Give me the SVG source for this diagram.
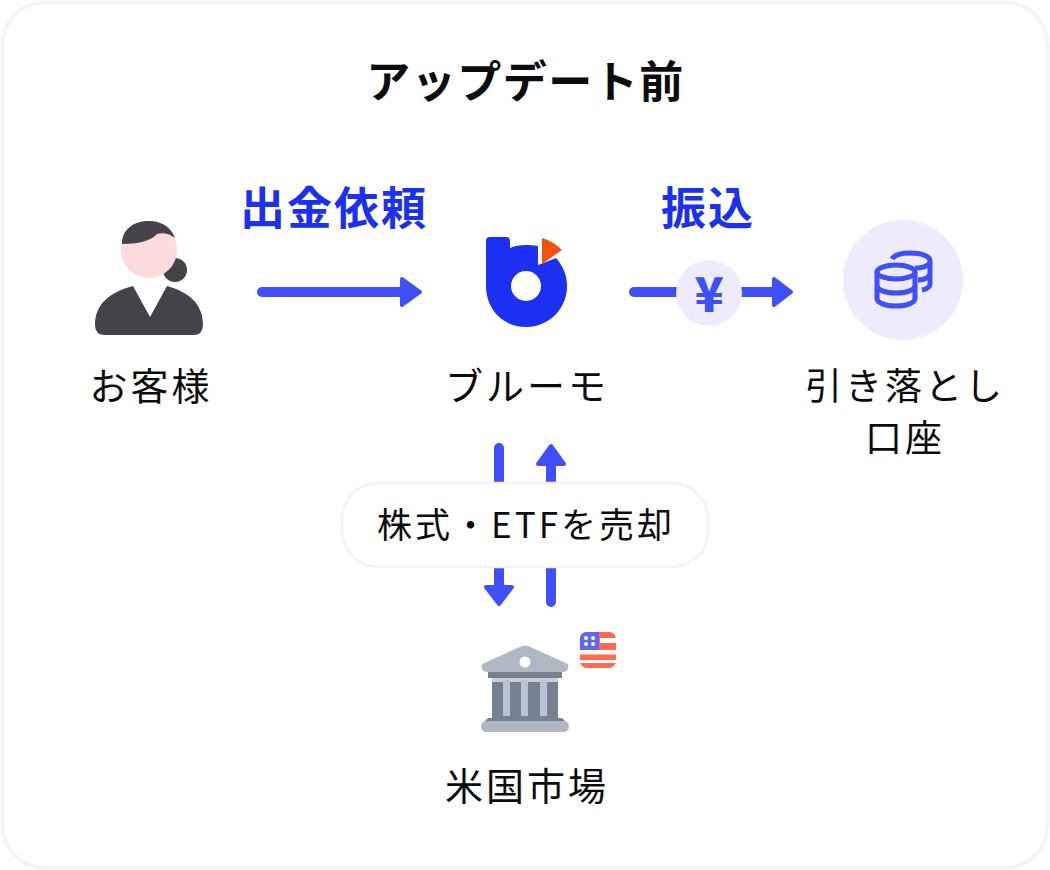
<svg xmlns="http://www.w3.org/2000/svg" width="1050" height="870" viewBox="0 0 1050 870">
<style>
text{font-family:"Noto Sans CJK JP","Noto Sans",sans-serif;fill:#0c0c0f;text-anchor:middle}
.lbl{font-size:38px;font-weight:400;letter-spacing:3px}
.lbl2{font-size:37px;font-weight:400;letter-spacing:3px}
.blue{font-size:45px;font-weight:700;fill:#1b30f2;letter-spacing:2px}
.ln{stroke:#3f4ffa;stroke-width:10;stroke-linecap:round;fill:none}
.hd{fill:#3f4ffa;stroke:#3f4ffa;stroke-width:4;stroke-linejoin:round}
</style>
<rect width="1050" height="870" fill="#fff"/>
<rect x="2.500" y="2.500" width="1045" height="865" rx="42" fill="#fff" stroke="#f5f4f7" stroke-width="4"/>
<text x="525.500" y="98" font-size="44" font-weight="700" style="letter-spacing:1.500px">アップデート前</text>
<g id="connectors">
<path class="ln" d="M262 292H402"/><path class="hd" d="M402 279L420 292L402 305Z"/>
<path class="ln" d="M634 292H690"/><path class="ln" d="M742 292H775" stroke-linecap="butt"/><path class="hd" d="M774 279L791 292L774 305Z"/>
<path class="ln" d="M499 448V585"/><path class="hd" d="M486 587H512L499 604Z"/>
<path class="ln" d="M551 602V465"/><path class="hd" d="M538 464H564L551 446Z"/>
</g>
<g id="label-request"><text class="blue" x="334" y="225">出金依頼</text></g>
<g id="label-transfer"><text class="blue" x="708" y="225">振込</text></g>
<g id="customer">
<path d="M95 325C95 304 110 292 133 286L150 317L167 286C189 292 203 304 203 325Q203 335 193 335H105Q95 335 95 325Z" fill="#45424a"/>
<circle cx="175" cy="270" r="12" fill="#45424a"/>
<circle cx="149" cy="250" r="28" fill="#fddadb"/>
<path d="M122 244C122 229 134 221 149 221C162 221 172 228 175 238C167 232 161 233 157 234C151 241 137 244 122 244Z" fill="#45424a"/>
<text class="lbl" x="151" y="400">お客様</text>
</g>
<g id="bluemo">
<path d="M486 241Q486 237 490 237H506Q510 237 510 241V248C514 246 520 245 526 245C530 245 534 245 538 246V265L556 258C563 266 567 275 567 286C567 309 549 327 526 327C503 327 486 309 486 286Z" fill="#1b30f2"/>
<circle cx="526" cy="286" r="15" fill="#fff"/>
<path d="M542 238Q553 241 562 250L542 264Z" fill="#f4500f"/>
<text class="lbl" x="527" y="400">ブルーモ</text>
</g>
<g id="yen">
<circle cx="709" cy="293" r="33" fill="#eeebfd"/>
<text x="709" y="312" font-size="48" font-weight="900" style="fill:#3f4ffa">¥</text>
</g>
<g id="account">
<circle cx="903" cy="280" r="60" fill="#eeebfd"/>
<g fill="none" stroke="#3f4ffa" stroke-width="5">
<ellipse cx="896" cy="272" rx="19" ry="7"/>
<path d="M877 272V298C877 303 885 306 896 306C907 306 915 303 915 298V272M877 285C877 290 885 293 896 293C907 293 915 290 915 285"/>
<path d="M892 259C895 254 902 253 910 253C921 253 930 256 930 261V284C930 287 927 289 922 290M915 268C925 268 930 265 930 261M918 280C925 280 930 277 930 273"/>
</g>
<text class="lbl2" x="905" y="400">引き落とし</text>
<text class="lbl2" x="905" y="452">口座</text>
</g>
<g id="sell-label">
<rect x="342" y="483" width="366" height="84" rx="36" fill="#fff" stroke="#f4f3f8" stroke-width="2.500"/>
<text x="526" y="538" font-size="35" style="letter-spacing:3px">株式・ETFを売却</text>
</g>
<g id="market">
<path d="M482 664L522 646Q525 645 528 646L568 664Q570 672 562 672H488Q480 672 482 664Z" fill="#b1b8c4"/>
<circle cx="525" cy="662" r="5.500" fill="#fff"/>
<rect x="488" y="672" width="74" height="6" fill="#778291"/>
<rect x="492" y="678" width="66" height="40" fill="#778291"/>
<rect x="492" y="678" width="66" height="4" fill="#c8cfdc"/>
<rect x="503" y="680" width="7" height="36" fill="#b9c2d6"/>
<rect x="521" y="680" width="7" height="36" fill="#b9c2d6"/>
<rect x="540" y="680" width="7" height="36" fill="#b9c2d6"/>
<path d="M488 718H562L566 722H484Z" fill="#778291"/>
<rect x="481" y="721" width="88" height="11" rx="5.500" fill="#b1b8c4"/>
<g id="flag">
<rect x="580" y="632" width="36" height="36" rx="7" fill="#ff6b50"/>
<rect x="600" y="638" width="16" height="5" fill="#fff"/><rect x="580" y="650" width="36" height="4.500" fill="#fff"/><rect x="580" y="660" width="36" height="3" fill="#fff"/>
<path d="M587 632H599V650H580V639Q580 632 587 632Z" fill="#5f68f2"/>
<g fill="#fff"><circle cx="586" cy="638" r="2"/><circle cx="593" cy="638" r="2"/><circle cx="586" cy="644" r="2"/><circle cx="593" cy="644" r="2"/></g>
</g>
<text class="lbl" x="527" y="800">米国市場</text>
</g>
</svg>
